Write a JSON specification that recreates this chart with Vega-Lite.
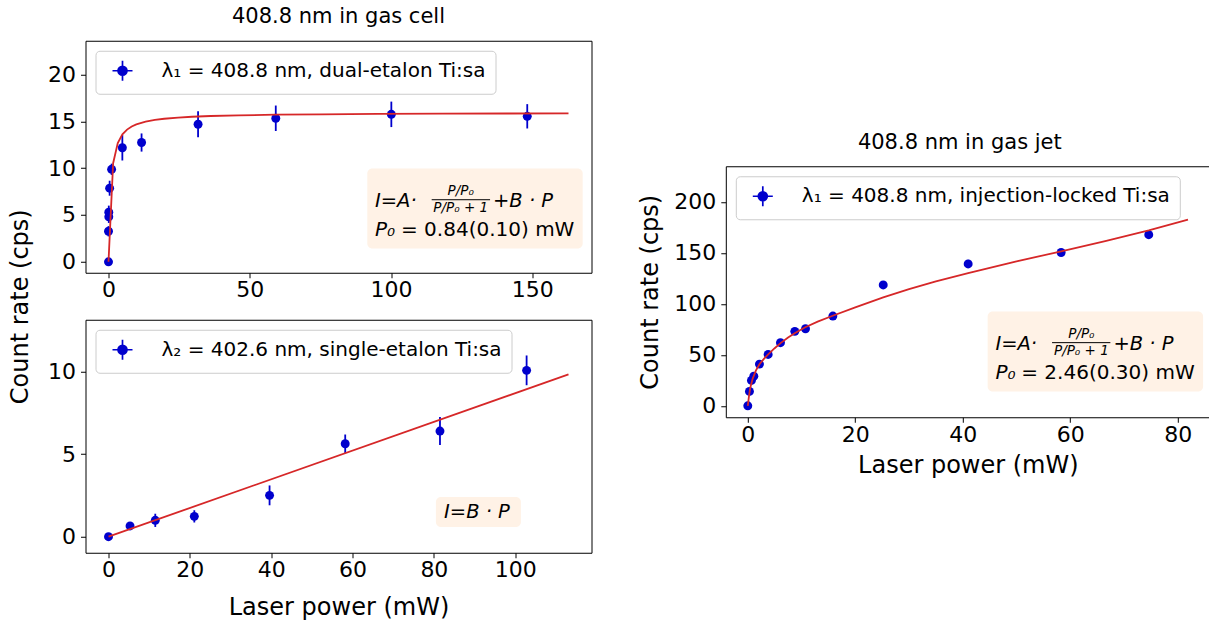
{
  "$schema": "https://vega.github.io/schema/vega-lite/v6.json",
  "autosize": {"type": "none"},
  "padding": {"left": 85.5, "top": 40.5, "right": 1123.5, "bottom": 582.5},
  "background": "white",
  "spacing": 44.3,
  "center": true,
  "datasets": {
    "cell": [
      {"series": "λ₁ = 408.8 nm, dual-etalon Ti:sa", "P": 0, "I": 0, "err": 0.15},
      {"series": "λ₁ = 408.8 nm, dual-etalon Ti:sa", "P": 0, "I": 3.26, "err": 0.55},
      {"series": "λ₁ = 408.8 nm, dual-etalon Ti:sa", "P": 0.1, "I": 4.8, "err": 0.65},
      {"series": "λ₁ = 408.8 nm, dual-etalon Ti:sa", "P": 0.1, "I": 5.3, "err": 0.7},
      {"series": "λ₁ = 408.8 nm, dual-etalon Ti:sa", "P": 0.4, "I": 7.86, "err": 0.8},
      {"series": "λ₁ = 408.8 nm, dual-etalon Ti:sa", "P": 1.1, "I": 9.88, "err": 0.6},
      {"series": "λ₁ = 408.8 nm, dual-etalon Ti:sa", "P": 4.9, "I": 12.18, "err": 1.36},
      {"series": "λ₁ = 408.8 nm, dual-etalon Ti:sa", "P": 11.7, "I": 12.74, "err": 0.97},
      {"series": "λ₁ = 408.8 nm, dual-etalon Ti:sa", "P": 31.7, "I": 14.69, "err": 1.38},
      {"series": "λ₁ = 408.8 nm, dual-etalon Ti:sa", "P": 59.2, "I": 15.33, "err": 1.36},
      {"series": "λ₁ = 408.8 nm, dual-etalon Ti:sa", "P": 100.1, "I": 15.75, "err": 1.36},
      {"series": "λ₁ = 408.8 nm, dual-etalon Ti:sa", "P": 148.2, "I": 15.54, "err": 1.3}
    ],
    "cellFit": [
      {"P": 0, "I": 0}, {"P": 1.64, "I": 10.53}, {"P": 3.28, "I": 12.68}, {"P": 4.92, "I": 13.61},
      {"P": 6.57, "I": 14.12}, {"P": 8.21, "I": 14.45}, {"P": 9.85, "I": 14.68}, {"P": 13.13, "I": 14.97},
      {"P": 16.41, "I": 15.15}, {"P": 19.7, "I": 15.28}, {"P": 24.62, "I": 15.4}, {"P": 29.55, "I": 15.49},
      {"P": 36.11, "I": 15.57}, {"P": 45.96, "I": 15.64}, {"P": 59.09, "I": 15.71}, {"P": 75.51, "I": 15.75},
      {"P": 95.2, "I": 15.79}, {"P": 118.18, "I": 15.82}, {"P": 141.16, "I": 15.84}, {"P": 162.8, "I": 15.85}
    ],
    "single": [
      {"series": "λ₂ = 402.6 nm, single-etalon Ti:sa", "P": 0, "I": 0, "err": 0.15},
      {"series": "λ₂ = 402.6 nm, single-etalon Ti:sa", "P": 5.3, "I": 0.65, "err": 0.12},
      {"series": "λ₂ = 402.6 nm, single-etalon Ti:sa", "P": 11.5, "I": 0.99, "err": 0.4},
      {"series": "λ₂ = 402.6 nm, single-etalon Ti:sa", "P": 21.1, "I": 1.23, "err": 0.37},
      {"series": "λ₂ = 402.6 nm, single-etalon Ti:sa", "P": 39.6, "I": 2.5, "err": 0.6},
      {"series": "λ₂ = 402.6 nm, single-etalon Ti:sa", "P": 58.2, "I": 5.62, "err": 0.56},
      {"series": "λ₂ = 402.6 nm, single-etalon Ti:sa", "P": 81.5, "I": 6.39, "err": 0.85},
      {"series": "λ₂ = 402.6 nm, single-etalon Ti:sa", "P": 102.8, "I": 10.06, "err": 0.9}
    ],
    "singleFit": [
      {"P": 0, "I": 0}, {"P": 113.1, "I": 9.82}
    ],
    "jet": [
      {"series": "λ₁ = 408.8 nm, injection-locked Ti:sa", "P": 0, "I": 0, "err": 0.5},
      {"series": "λ₁ = 408.8 nm, injection-locked Ti:sa", "P": 0.31, "I": 14.1, "err": 1.2},
      {"series": "λ₁ = 408.8 nm, injection-locked Ti:sa", "P": 0.68, "I": 24.9, "err": 1.5},
      {"series": "λ₁ = 408.8 nm, injection-locked Ti:sa", "P": 1.12, "I": 29.1, "err": 1.6},
      {"series": "λ₁ = 408.8 nm, injection-locked Ti:sa", "P": 2.17, "I": 40.9, "err": 1.8},
      {"series": "λ₁ = 408.8 nm, injection-locked Ti:sa", "P": 3.79, "I": 50.4, "err": 2},
      {"series": "λ₁ = 408.8 nm, injection-locked Ti:sa", "P": 6.08, "I": 61.9, "err": 2.2},
      {"series": "λ₁ = 408.8 nm, injection-locked Ti:sa", "P": 8.75, "I": 73.0, "err": 2.4},
      {"series": "λ₁ = 408.8 nm, injection-locked Ti:sa", "P": 10.74, "I": 75.6, "err": 2.5},
      {"series": "λ₁ = 408.8 nm, injection-locked Ti:sa", "P": 15.83, "I": 88.0, "err": 2.6},
      {"series": "λ₁ = 408.8 nm, injection-locked Ti:sa", "P": 25.2, "I": 118.5, "err": 3},
      {"series": "λ₁ = 408.8 nm, injection-locked Ti:sa", "P": 41.0, "I": 139.1, "err": 4},
      {"series": "λ₁ = 408.8 nm, injection-locked Ti:sa", "P": 58.3, "I": 150.3, "err": 3.5},
      {"series": "λ₁ = 408.8 nm, injection-locked Ti:sa", "P": 74.6, "I": 167.8, "err": 3.5}
    ],
    "jetFit": [
      {"P": 0, "I": 0}, {"P": 0.2, "I": 8.5}, {"P": 0.45, "I": 17.5}, {"P": 0.9, "I": 26.5},
      {"P": 1.5, "I": 34.5}, {"P": 2.2, "I": 41}, {"P": 3, "I": 46}, {"P": 3.8, "I": 50.5},
      {"P": 5, "I": 56.5}, {"P": 6.1, "I": 61.5}, {"P": 7.5, "I": 67}, {"P": 8.8, "I": 71.5},
      {"P": 10.7, "I": 77}, {"P": 13, "I": 82.5}, {"P": 15.8, "I": 88.3}, {"P": 20, "I": 96.5},
      {"P": 25.2, "I": 106.3}, {"P": 30, "I": 114.5}, {"P": 35, "I": 122}, {"P": 41, "I": 130},
      {"P": 50, "I": 141.5}, {"P": 58.3, "I": 151.5}, {"P": 66.5, "I": 161.5}, {"P": 74.6, "I": 172},
      {"P": 81.9, "I": 182.5}
    ]
  },
  "hconcat": [
    {
      "vconcat": [
        {
          "width": 506,
          "height": 232,
          "title": {"text": "408.8 nm in gas cell"},
          "layer": [
            {
              "data": {"values": [{}]},
              "mark": {"type": "rect", "color": "#fff2e6", "cornerRadius": 5},
              "encoding": {
                "x": {"datum": 91.59}, "x2": {"datum": 167.82},
                "y": {"datum": 9.96}, "y2": {"datum": 1.41}
              }
            },
            {
              "data": {"name": "cell"},
              "mark": {"type": "errorbar", "color": "#0000cd", "thickness": 1.8},
              "encoding": {
                "x": {"field": "P", "type": "quantitative", "title": null},
                "y": {"field": "I", "type": "quantitative", "title": null},
                "yError": {"field": "err"}
              }
            },
            {
              "data": {"name": "cell"},
              "mark": {"type": "point", "filled": true, "size": 80, "opacity": 1},
              "encoding": {
                "x": {"field": "P", "type": "quantitative", "title": null,
                      "scale": {"domain": [-8.14, 170.94], "nice": false, "zero": false},
                      "axis": {"values": [0, 50, 100, 150]}},
                "y": {"field": "I", "type": "quantitative", "title": null,
                      "scale": {"domain": [-1.17, 23.61], "nice": false, "zero": false},
                      "axis": {"values": [0, 5, 10, 15, 20]}},
                "color": {"field": "series", "type": "nominal",
                          "scale": {"range": ["#0000cd"]}, "legend": {"title": null}}
              }
            },
            {
              "data": {"name": "cellFit"},
              "mark": {"type": "line", "color": "#d62728", "strokeWidth": 1.8},
              "encoding": {
                "x": {"field": "P", "type": "quantitative", "title": null},
                "y": {"field": "I", "type": "quantitative", "title": null}
              }
            },
            {
              "data": {"values": [{}]},
              "mark": {"type": "text", "text": "I=A·", "fontStyle": "italic", "fontSize": 19.5, "align": "left", "baseline": "alphabetic"},
              "encoding": {"x": {"datum": 94.32}, "y": {"datum": 5.86}}
            },
            {
              "data": {"values": [{}]},
              "mark": {"type": "text", "text": "P/P₀", "fontStyle": "italic", "fontSize": 13.5, "align": "center", "baseline": "alphabetic"},
              "encoding": {"x": {"datum": 124.65}, "y": {"datum": 7.11}}
            },
            {
              "data": {"values": [{}]},
              "mark": {"type": "rule", "color": "black", "strokeWidth": 1},
              "encoding": {"x": {"datum": 114.38}, "x2": {"datum": 135.04}, "y": {"datum": 6.63}}
            },
            {
              "data": {"values": [{}]},
              "mark": {"type": "text", "text": "P/P₀ + 1", "fontStyle": "italic", "fontSize": 13.5, "align": "center", "baseline": "alphabetic"},
              "encoding": {"x": {"datum": 124.65}, "y": {"datum": 5.34}}
            },
            {
              "data": {"values": [{}]},
              "mark": {"type": "text", "text": "+B · P", "fontStyle": "italic", "fontSize": 19.5, "align": "left", "baseline": "alphabetic"},
              "encoding": {"x": {"datum": 136.08}, "y": {"datum": 5.86}}
            },
            {
              "data": {"values": [{}]},
              "mark": {"type": "text", "text": "P₀", "fontStyle": "italic", "fontSize": 20, "align": "left", "baseline": "alphabetic"},
              "encoding": {"x": {"datum": 94.32}, "y": {"datum": 2.73}}
            },
            {
              "data": {"values": [{}]},
              "mark": {"type": "text", "text": "= 0.84(0.10) mW", "fontSize": 20, "align": "left", "baseline": "alphabetic"},
              "encoding": {"x": {"datum": 103.52}, "y": {"datum": 2.73}}
            }
          ]
        },
        {
          "width": 506,
          "height": 233,
          "layer": [
            {
              "data": {"values": [{}]},
              "mark": {"type": "rect", "color": "#fff2e6", "cornerRadius": 5},
              "encoding": {
                "x": {"datum": 80.5}, "x2": {"datum": 101.4},
                "y": {"datum": 2.4}, "y2": {"datum": 0.59}
              }
            },
            {
              "data": {"name": "single"},
              "mark": {"type": "errorbar", "color": "#0000cd", "thickness": 1.8},
              "encoding": {
                "x": {"field": "P", "type": "quantitative", "title": "Laser power (mW)"},
                "y": {"field": "I", "type": "quantitative", "title": "Count rate (cps)"},
                "yError": {"field": "err"}
              }
            },
            {
              "data": {"name": "single"},
              "mark": {"type": "point", "filled": true, "size": 80, "opacity": 1},
              "encoding": {
                "x": {"field": "P", "type": "quantitative", "title": "Laser power (mW)",
                      "scale": {"domain": [-5.655, 118.755], "nice": false, "zero": false},
                      "axis": {"values": [0, 20, 40, 60, 80, 100], "titleY": 62, "titleBaseline": "alphabetic"}},
                "y": {"field": "I", "type": "quantitative", "title": "Count rate (cps)",
                      "scale": {"domain": [-0.97, 13.12], "nice": false, "zero": false},
                      "axis": {"values": [0, 5, 10], "titleX": -58, "titleY": -13.5, "titleAngle": -90, "titleAlign": "center", "titleBaseline": "alphabetic"}},
                "color": {"field": "series", "type": "nominal",
                          "scale": {"range": ["#0000cd"]}, "legend": {"title": null}}
              }
            },
            {
              "data": {"name": "singleFit"},
              "mark": {"type": "line", "color": "#d62728", "strokeWidth": 1.8},
              "encoding": {
                "x": {"field": "P", "type": "quantitative", "title": "Laser power (mW)"},
                "y": {"field": "I", "type": "quantitative", "title": "Count rate (cps)"}
              }
            },
            {
              "data": {"values": [{}]},
              "mark": {"type": "text", "text": "I=B · P", "fontStyle": "italic", "fontSize": 19.5, "align": "left", "baseline": "alphabetic"},
              "encoding": {"x": {"datum": 82.5}, "y": {"datum": 1.16}}
            }
          ]
        }
      ],
      "spacing": 47,
      "bounds": "flush",
      "resolve": {"scale": {"color": "independent"}, "legend": {"color": "independent"}}
    },
    {
      "width": 484,
      "height": 251,
      "title": {"text": "408.8 nm in gas jet", "dx": -8},
      "layer": [
        {
          "data": {"values": [{}]},
          "mark": {"type": "rect", "color": "#fff2e6", "cornerRadius": 5},
          "encoding": {
            "x": {"datum": 44.63}, "x2": {"datum": 84.71},
            "y": {"datum": 92.53}, "y2": {"datum": 14.1}
          }
        },
        {
          "data": {"name": "jet"},
          "mark": {"type": "errorbar", "color": "#0000cd", "thickness": 1.8},
          "encoding": {
            "x": {"field": "P", "type": "quantitative", "title": ["Laser power (mW)", ""]},
            "y": {"field": "I", "type": "quantitative", "title": "Count rate (cps)"},
            "yError": {"field": "err"}
          }
        },
        {
          "data": {"name": "jet"},
          "mark": {"type": "point", "filled": true, "size": 80, "opacity": 1},
          "encoding": {
            "x": {"field": "P", "type": "quantitative", "title": ["Laser power (mW)", ""],
                  "scale": {"domain": [-4.09, 85.96], "nice": false, "zero": false},
                  "axis": {"values": [0, 20, 40, 60, 80], "titleY": 55, "titleBaseline": "alphabetic", "titleLineHeight": 17}},
            "y": {"field": "I", "type": "quantitative", "title": "Count rate (cps)",
                  "scale": {"domain": [-11.19, 234.87], "nice": false, "zero": false},
                  "axis": {"values": [0, 50, 100, 150, 200], "titleX": -68.5, "titleY": 125.5, "titleAngle": -90, "titleAlign": "center", "titleBaseline": "alphabetic"}},
            "color": {"field": "series", "type": "nominal",
                      "scale": {"range": ["#0000cd"]}, "legend": {"title": null}}
          }
        },
        {
          "data": {"name": "jetFit"},
          "mark": {"type": "line", "color": "#d62728", "strokeWidth": 1.8},
          "encoding": {
            "x": {"field": "P", "type": "quantitative", "title": ["Laser power (mW)", ""]},
            "y": {"field": "I", "type": "quantitative", "title": "Count rate (cps)"}
          }
        },
        {
          "data": {"values": [{}]},
          "mark": {"type": "text", "text": "I=A·", "fontStyle": "italic", "fontSize": 19.5, "align": "left", "baseline": "alphabetic"},
          "encoding": {"x": {"datum": 46.07}, "y": {"datum": 54.88}}
        },
        {
          "data": {"values": [{}]},
          "mark": {"type": "text", "text": "P/P₀", "fontStyle": "italic", "fontSize": 13.5, "align": "center", "baseline": "alphabetic"},
          "encoding": {"x": {"datum": 62.07}, "y": {"datum": 66.35}}
        },
        {
          "data": {"values": [{}]},
          "mark": {"type": "rule", "color": "black", "strokeWidth": 1},
          "encoding": {"x": {"datum": 56.61}, "x2": {"datum": 67.46}, "y": {"datum": 61.94}}
        },
        {
          "data": {"values": [{}]},
          "mark": {"type": "text", "text": "P/P₀ + 1", "fontStyle": "italic", "fontSize": 13.5, "align": "center", "baseline": "alphabetic"},
          "encoding": {"x": {"datum": 62.07}, "y": {"datum": 50.17}}
        },
        {
          "data": {"values": [{}]},
          "mark": {"type": "text", "text": "+B · P", "fontStyle": "italic", "fontSize": 19.5, "align": "left", "baseline": "alphabetic"},
          "encoding": {"x": {"datum": 68.02}, "y": {"datum": 54.88}}
        },
        {
          "data": {"values": [{}]},
          "mark": {"type": "text", "text": "P₀", "fontStyle": "italic", "fontSize": 20, "align": "left", "baseline": "alphabetic"},
          "encoding": {"x": {"datum": 46.07}, "y": {"datum": 26.16}}
        },
        {
          "data": {"values": [{}]},
          "mark": {"type": "text", "text": "= 2.46(0.30) mW", "fontSize": 20, "align": "left", "baseline": "alphabetic"},
          "encoding": {"x": {"datum": 50.88}, "y": {"datum": 26.16}}
        }
      ]
    }
  ],
  "resolve": {"scale": {"color": "independent"}, "legend": {"color": "independent"}},
  "config": {
    "font": "DejaVu Sans",
    "view": {"stroke": "black", "strokeWidth": 1},
    "axis": {
      "grid": false, "domain": false, "ticks": true, "tickSize": 5, "tickWidth": 1, "tickColor": "black",
      "labelFontSize": 22, "labelColor": "black", "labelFlush": false, "labelOverlap": false,
      "titleFontSize": 24, "titleFontWeight": "normal", "titleColor": "black"
    },
    "axisX": {"labelPadding": 2},
    "axisY": {"labelPadding": 5},
    "legend": {
      "orient": "top-left", "offset": 10, "padding": 9,
      "labelFontSize": 20, "labelColor": "black", "labelLimit": 1000, "labelOffset": 28,
      "symbolOffset": 7, "symbolSize": 400,
      "symbolType": "M-1,0H1M0,-1V1M-0.45,0A0.45,0.45,0,1,1,0.45,0A0.45,0.45,0,1,1,-0.45,0Z",
      "symbolStrokeWidth": 1.7, "symbolStrokeColor": "#0000cd", "symbolFillColor": "#0000cd", "symbolOpacity": 1,
      "strokeColor": "#cccccc", "fillColor": "white", "cornerRadius": 4
    },
    "title": {"fontSize": 21, "fontWeight": "normal", "color": "black", "anchor": "middle", "frame": "group", "baseline": "alphabetic", "offset": 13.5},
    "text": {"color": "black"}
  }
}
